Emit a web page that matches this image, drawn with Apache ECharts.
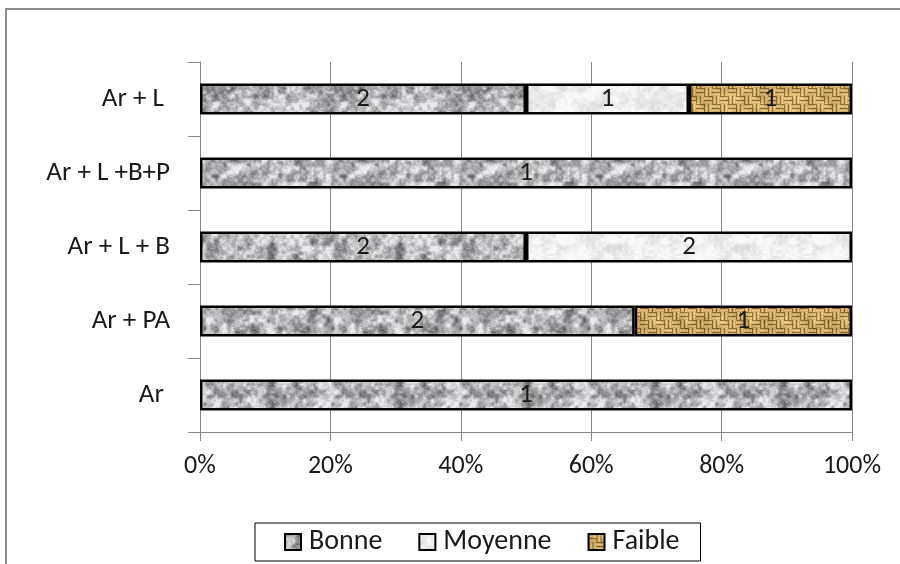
<!DOCTYPE html>
<html>
<head>
<meta charset="utf-8">
<script src="https://cdn.jsdelivr.net/npm/echarts@6/dist/echarts.min.js"></script>
<style>
  html, body { margin: 0; padding: 0; background: #fff; }
  #chart { width: 900px; height: 564px; }
</style>
</head>
<body>
<div id="chart"></div>
<script>
// Categories listed bottom to top
const categories = ['Ar ', 'Ar + PA', 'Ar + L + B', 'Ar + L +B+P', 'Ar + L '];
const bonne   = [1, 2, 2, 1, 2];
const moyenne = [0, 0, 2, 0, 1];
const faible  = [0, 1, 0, 0, 1];
const xTicks = [0, 20, 40, 60, 80, 100];

const FONT = 'Carlito, Calibri, Lato, sans-serif';

// Deterministic value noise for the fill textures
function hash(x, y, s) {
  const v = Math.sin(x * 127.1 + y * 311.7 + s * 74.7) * 43758.5453;
  return v - Math.floor(v);
}
function smoothNoise(x, y, cell, size, s) {
  const n = size / cell;
  const gx = x / cell, gy = y / cell;
  const x0 = Math.floor(gx), y0 = Math.floor(gy);
  const fx = gx - x0, fy = gy - y0;
  const ux = fx * fx * (3 - 2 * fx), uy = fy * fy * (3 - 2 * fy);
  const a = hash(x0 % n, y0 % n, s), b = hash((x0 + 1) % n, y0 % n, s);
  const c = hash(x0 % n, (y0 + 1) % n, s), d = hash((x0 + 1) % n, (y0 + 1) % n, s);
  return (a * (1 - ux) + b * ux) * (1 - uy) + (c * (1 - ux) + d * ux) * uy;
}
function makeTexture(size, shader) {
  const cv = document.createElement('canvas');
  cv.width = size; cv.height = size;
  const ctx = cv.getContext('2d');
  const img = ctx.createImageData(size, size);
  for (let y = 0; y < size; y++) {
    for (let x = 0; x < size; x++) {
      const [r, g, b] = shader(x, y, size);
      const i = (y * size + x) * 4;
      img.data[i] = r; img.data[i + 1] = g; img.data[i + 2] = b; img.data[i + 3] = 255;
    }
  }
  ctx.putImageData(img, 0, 0);
  return cv;
}

// Granite grey
const graniteTex = makeTexture(128, (x, y, s) => {
  const n = 0.45 * smoothNoise(x, y, 8, s, 1) + 0.35 * smoothNoise(x, y, 4, s, 2) + 0.2 * smoothNoise(x, y, 2, s, 3);
  const v = Math.max(85, Math.min(235, 180 + (n - 0.5) * 240 + (hash(x, y, 9) - 0.5) * 22));
  return [v, v, v + 3];
});
// Pale speckle
const speckleTex = makeTexture(128, (x, y, s) => {
  const n = 0.6 * smoothNoise(x, y, 8, s, 4) + 0.4 * smoothNoise(x, y, 3, s, 5);
  const v = Math.max(205, Math.min(250, 238 + (n - 0.5) * 55 + (hash(x, y, 7) - 0.5) * 10));
  return [v, v, v];
});
// Tan burlap weave
const burlapTex = makeTexture(64, (x, y, s) => {
  const cellX = Math.floor(x / 8), cellY = Math.floor(y / 8);
  const horiz = (cellX + cellY) % 2 === 0;
  const t = horiz ? (y % 4) : (x % 4);
  let k = t === 0 ? -0.5 : (t === 2 ? 0.25 : 0.05);
  k += (hash(x, y, 11) - 0.5) * 0.3 + (smoothNoise(x, y, 8, s, 6) - 0.5) * 0.35;
  const base = [200, 164, 100];
  return base.map((c, i) => Math.max(0, Math.min(255, c + k * (i === 2 ? 100 : 120))));
});

const totals = categories.map((_, i) => bonne[i] + moyenne[i] + faible[i]);
const pct = arr => arr.map((v, i) => (v ? (v / totals[i]) * 100 : null));

function makeSeries(name, counts, tex) {
  return {
    name: name,
    type: 'bar',
    stack: 'total',
    barWidth: 31,
    data: pct(counts),
    itemStyle: {
      color: { image: tex, repeat: 'repeat' },
      borderColor: '#000',
      borderWidth: 2.5
    },
    label: {
      show: true,
      position: 'inside',
      color: '#1a1a1a',
      fontFamily: FONT,
      fontSize: 27,
      formatter: p => (counts[p.dataIndex] ? String(counts[p.dataIndex]) : '')
    }
  };
}

const chart = echarts.init(document.getElementById('chart'));
chart.setOption({
  animation: false,
  backgroundColor: '#fff',
  graphic: [{
    type: 'rect',
    shape: { x: 6, y: 9, width: 1000, height: 1000 },
    style: { fill: 'none', stroke: '#8c8c8c', lineWidth: 2 },
    silent: true
  }],
  grid: { left: 200, right: 48, top: 62, bottom: 132, containLabel: false },
  legend: {
    left: 255,
    top: 523,
    padding: [4, 21, 4, 29],
    borderColor: '#000',
    borderWidth: 1,
    itemWidth: 16,
    itemHeight: 16,
    itemGap: 36,
    icon: 'rect',
    itemStyle: { borderColor: '#000', borderWidth: 2 },
    textStyle: { fontFamily: FONT, fontSize: 28, lineHeight: 30, color: '#1a1a1a', padding: [0, 0, 0, 3] },
    data: ['Bonne', 'Moyenne', 'Faible']
  },
  xAxis: {
    type: 'value',
    min: xTicks[0],
    max: xTicks[xTicks.length - 1],
    interval: 20,
    axisLine: { show: true, lineStyle: { color: '#868686', width: 1 } },
    axisTick: { show: true, length: 9, lineStyle: { color: '#868686' } },
    splitLine: { show: true, lineStyle: { color: '#868686', width: 1 } },
    axisLabel: {
      margin: 21,
      fontFamily: FONT,
      fontSize: 26,
      color: '#1a1a1a',
      formatter: v => v + '%'
    }
  },
  yAxis: {
    type: 'category',
    data: categories,
    axisLine: { show: true, lineStyle: { color: '#868686', width: 1 } },
    axisTick: { show: true, length: 12, lineStyle: { color: '#868686' } },
    axisLabel: {
      margin: 30,
      fontFamily: FONT,
      fontSize: 27,
      color: '#1a1a1a'
    }
  },
  series: [
    makeSeries('Bonne', bonne, graniteTex),
    makeSeries('Moyenne', moyenne, speckleTex),
    makeSeries('Faible', faible, burlapTex)
  ]
});
</script>
</body>
</html>
